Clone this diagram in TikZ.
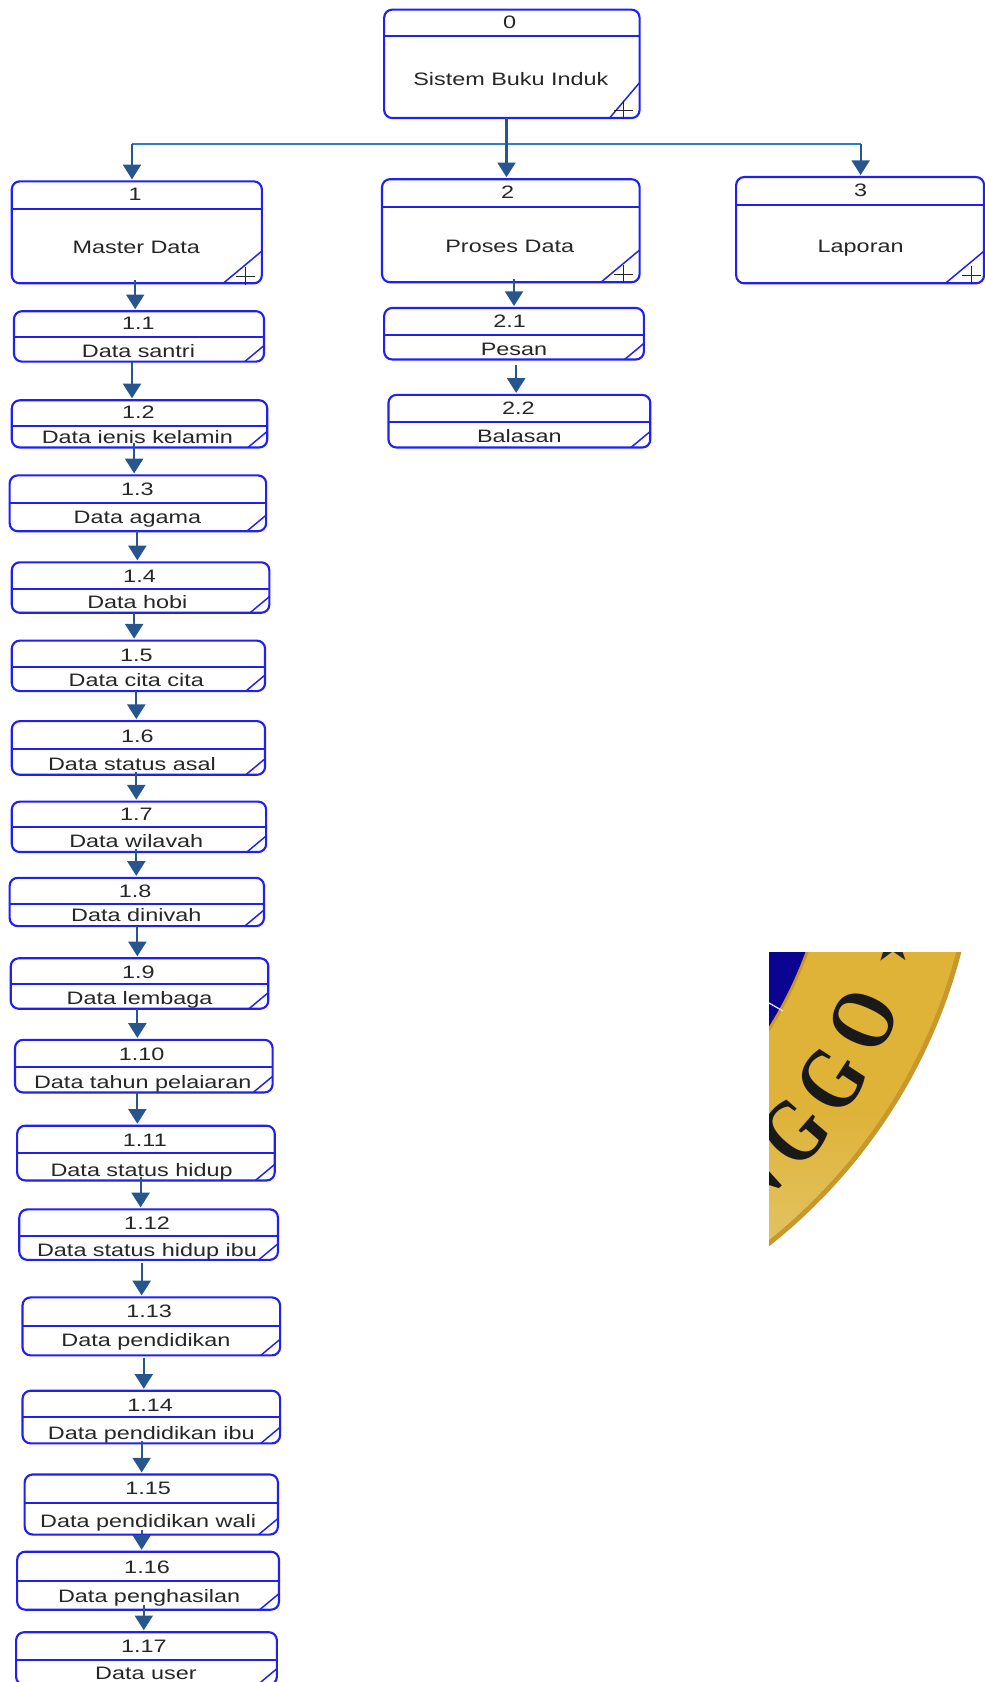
\documentclass[tikz,border=0pt]{standalone}
\usepackage{fontspec}
\setmainfont[FakeStretch=1.3]{Liberation Sans}
\newfontfamily\sealfont{Liberation Serif}
\newfontfamily\starfont{DejaVu Sans}
\usetikzlibrary{arrows.meta,calc}
\definecolor{boxblue}{HTML}{2020F0}
\definecolor{arrowblue}{HTML}{27568F}
\definecolor{busblue}{HTML}{2A80C4}
\definecolor{textdark}{HTML}{262626}
\definecolor{sealblue}{HTML}{0B0490}
\definecolor{sealgold}{HTML}{DFB238}
\definecolor{sealpale}{HTML}{E2C566}
\definecolor{sealrim}{HTML}{C9982A}
\tikzset{
  procshape/.style={draw=boxblue,line width=1.6pt,fill=white,rectangle,rounded corners=6pt,inner sep=0pt,outer sep=0pt},
  procline/.style={draw=boxblue,line width=1.5pt},
  cornerline/.style={draw=boxblue,line width=1.1pt},
  plusmark/.style={draw=black!85,line width=.8pt},
  numtext/.style={anchor=base,inner sep=0pt,text=textdark,font=\fontsize{13.5}{15}\selectfont},
  labtext/.style={numtext},
  arr/.style={draw=arrowblue,line width=1.6pt,shorten >=1.5pt,-{Triangle[length=11pt,width=13.5pt]}},
  bus/.style={draw=busblue,line width=1.4pt},
  sealletter/.style={inner sep=0pt,text=black!90,font=\sealfont\bfseries\fontsize{68}{70}\selectfont}
}
\begin{document}
\begin{tikzpicture}[x=0.80482pt,y=-0.80482pt]
\useasboundingbox (0,0) rectangle (917,1567.4);
% boxes: name/x1/y1/x2/y2/div/number/numx/numbase/label/labx/labbase/dx/dy
\foreach \n/\xa/\ya/\xb/\yb/\yd/\num/\nx/\ny/\lab/\lx/\ly/\dx/\dy in {
 n0/358/9/596/110/34/0/475/27/Sistem Buku Induk/476/80/28/33,
 n1/11/169/244/264/195/1/126/187/Master Data/127/236/36/30,
 n2/356/167/596/263/193/2/473/185/Proses Data/475/235/36/30,
 n3/686/165/917/264/191/3/802/183/Laporan/802/235/36/30,
 n11/13/290/246/337/314/1.1/129/307/Data santri/129/333/18/15,
 n12/11/373/249/417/397/1.2/129/390/Data ienis kelamin/128/413/18/15,
 n13/9/443/248/495/469/1.3/128/462/Data agama/128/488/18/15,
 n14/11/524/251/571/549/1.4/130/543/Data hobi/128/567/18/15,
 n15/11/597/247/644/622/1.5/127/616/Data cita cita/127/640/18/15,
 n16/11/672/247/722/698/1.6/128/692/Data status asal/123/718/18/15,
 n17/11/747/248/794/771/1.7/127/765/Data wilavah/127/790/18/15,
 n18/9/818/246/863/842/1.8/126/836/Data dinivah/127/859/18/15,
 n19/10/893/250/940/917/1.9/129/912/Data lembaga/130/936/18/15,
 n110/14/969/254/1018/994/1.10/132/988/Data tahun pelaiaran/133/1014/18/15,
 n111/16/1049/256/1100/1074/1.11/135/1068/Data status hidup/132/1096/18/15,
 n112/18/1127/259/1174/1152/1.12/137/1146/Data status hidup ibu/137/1171/18/15,
 n113/21/1209/261/1263/1236/1.13/139/1228/Data pendidikan/136/1255/18/15,
 n114/21/1296/261/1345/1320/1.14/140/1315/Data pendidikan ibu/141/1341/18/15,
 n115/23/1374/259/1430/1401/1.15/138/1393/Data pendidikan wali/138/1423/18/15,
 n116/16/1446/260/1500/1473/1.16/137/1466/Data penghasilan/139/1493/18/15,
 n117/15/1521/258/1570/1547/1.17/134/1540/Data user/136/1565/18/15,
 n21/358/287/600/335/312/2.1/475/305/Pesan/479/331/18/15,
 n22/362/368/606/417/393/2.2/483/386/Balasan/484/412/18/15%
}{
 \pgfmathsetmacro{\cx}{(\xa+\xb)/2}
 \pgfmathsetmacro{\cy}{(\ya+\yb)/2}
 \node[procshape,minimum width={(\xb-\xa)*0.80482pt},minimum height={(\yb-\ya)*0.80482pt}] (\n) at (\cx,\cy) {};
 \draw[procline] (\xa,\yd) -- (\xb,\yd);
 \draw[cornerline] ({\xb-\dx},\yb) -- (\xb,{\yb-\dy});
 \node[numtext] (\n-num) at (\nx,\ny) {\num};
 \begin{scope}
  \clip (\xa,\yd) rectangle (\xb,\yb);
  \node[labtext] (\n-lab) at (\lx,\ly) {\lab};
 \end{scope}
}
% plus marks
\foreach \n/\px/\py in {n0/581/103,n1/229/258,n2/581/256,n3/905/257}{
 \draw[plusmark] (\px-9,\py) -- (\px+9,\py) (\px,\py-9) -- (\px,\py+8);
}
% top connectors
\coordinate (busL) at (123,134);
\coordinate (busR) at (802,134);
\draw[bus] (busL) -- (busR);
\draw[arr] (busL) -- (n1.north -| busL);
\draw[arr] (busR) -- (n3.north -| busR);
\draw[arr] (n0.south -| 472,0) -- (n2.north -| 472,0);
% chain connectors: from/to/x/tail offset
\foreach \a/\b/\x/\d in {
 n1/n11/126/-3, n11/n12/123/0, n12/n13/125/-4, n13/n14/128/0,
 n14/n15/125/0, n15/n16/127/0, n16/n17/127/-3, n17/n18/127/-3,
 n18/n19/128/0, n19/n110/128/0, n110/n111/128/0, n111/n112/131/-3,
 n112/n113/132/3, n113/n114/134/2, n114/n115/132/-2, n115/n116/132/-4,
 n116/n117/134/-4, n2/n21/479/-3, n21/n22/481/5%
}{
 \draw[arr] ($(\a.south -| \x,0)+(0,\d)$) -- (\b.north -| \x,0);
}
% seal fragment
\begin{scope}[x=.75pt,y=-.75pt]
 \clip (769,952) rectangle (984,1300);
 \fill[sealrim] (427,813) circle[radius=552];
 \begin{scope}
  \clip (427,813) circle[radius=547];
  \shade[top color=sealgold,bottom color=sealpale,middle color=sealgold] (769,952) rectangle (984,1260);
 \end{scope}
 \fill[sealrim] (427,813) circle[radius=406];
 \fill[sealblue] (427,813) circle[radius=403];
 \draw[white!85!blue,line width=1pt] (769,1003) -- (783,1011);
 \node[sealletter,rotate=66] (sealO) at (864,1020) {\scalebox{.78}[1]{O}};
 \node[sealletter,rotate=57] (sealG) at (832,1080) {\scalebox{.78}[1]{G}};
 \node[sealletter,rotate=49] (sealH) at (794,1132) {\scalebox{.78}[1]{G}};
 \node[sealletter,rotate=42] (sealN) at (749,1176) {\scalebox{.78}[1]{N}};
 \node[inner sep=0pt,text=black!85,rotate=73,font=\starfont\fontsize{40}{42}\selectfont] (sealS) at (891,943) {★};
\end{scope}
\end{tikzpicture}
\end{document}
